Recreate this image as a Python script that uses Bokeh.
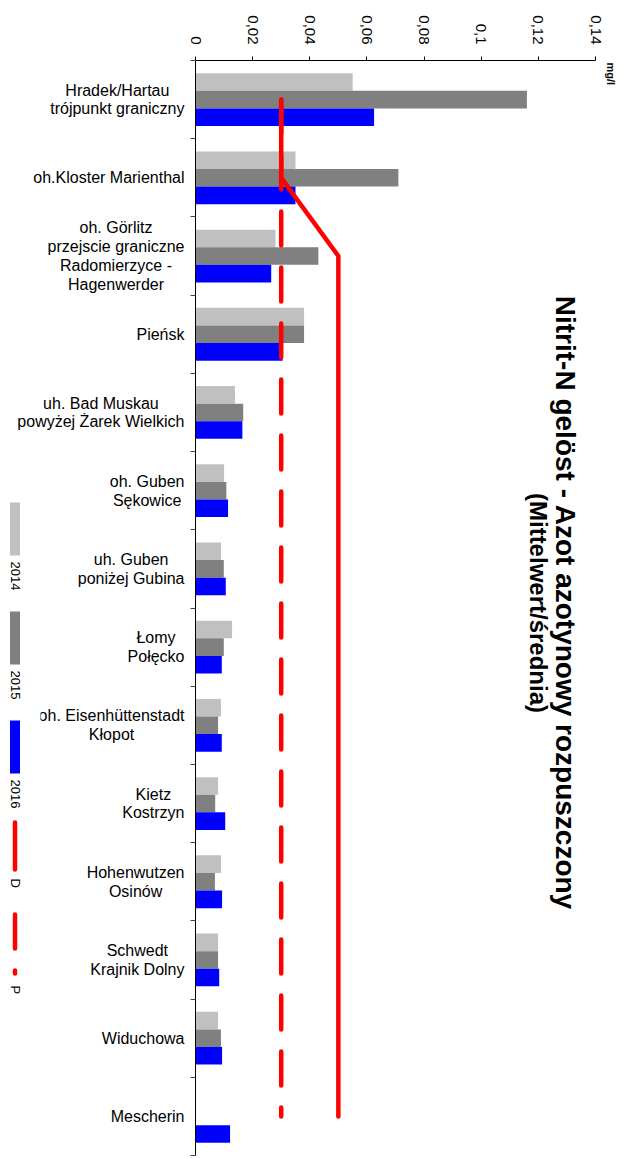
import math
from bokeh.plotting import figure
from bokeh.models import Range1d, FixedTicker, CustomJSTickFormatter, Label, ColumnDataSource
from bokeh.layouts import row
from bokeh.core.properties import value
from bokeh.embed import file_html
from bokeh.resources import INLINE

NaN = float("nan")

categories = [
    "Hradek/Hartau\ntrójpunkt graniczny",
    "oh.Kloster Marienthal",
    "oh. Görlitz\nprzejscie graniczne\nRadomierzyce -\nHagenwerder",
    "Pieńsk",
    "uh. Bad Muskau\npowyżej Żarek Wielkich",
    "oh. Guben\nSękowice",
    "uh. Guben\nponiżej Gubina",
    "Łomy\nPołęcko",
    "oh. Eisenhüttenstadt\nKłopot",
    "Kietz\nKostrzyn",
    "Hohenwutzen\nOsinów",
    "Schwedt\nKrajnik Dolny",
    "Widuchowa",
    "Mescherin",
]
series_names = ["2014", "2015", "2016"]
series_colors = ["#C0C0C0", "#808080", "#0000FF"]
v2014 = [0.055, 0.035, 0.028, 0.038, 0.0138, 0.010, 0.0089, 0.0128, 0.0089, 0.0079, 0.0089, 0.0079, 0.0079, NaN]
v2015 = [0.116, 0.071, 0.043, 0.038, 0.0167, 0.0108, 0.0099, 0.0099, 0.0079, 0.0069, 0.0068, 0.0079, 0.0089, NaN]
v2016 = [0.0625, 0.035, 0.0265, 0.0305, 0.0164, 0.0114, 0.0106, 0.0092, 0.0092, 0.0104, 0.0093, 0.0083, 0.0093, 0.0121]
limit_names = ["D", "P"]
limit_D = [0.03, 0.03, 0.05, 0.05, 0.05, 0.05, 0.05, 0.05, 0.05, 0.05, 0.05, 0.05, 0.05, 0.05]
limit_P = [0.03] * 14
x_ticks = [0, 0.02, 0.04, 0.06, 0.08, 0.1, 0.12, 0.14]
title1 = "Nitrit-N gelöst - Azot azotynowy rozpuszczony"
title2 = "(Mittelwert/średnia)"
unit = "mg/l"

FONT = "Liberation Sans"
RED = "#FF0000"

# Arial / Liberation Sans advance widths (per 1000 em), used to centre label lines
W = {" ": 278, ".": 278, "/": 278, "-": 333,
     "a": 556, "b": 556, "c": 500, "d": 556, "e": 556, "f": 278, "g": 556, "h": 556, "i": 222,
     "j": 222, "k": 500, "l": 222, "m": 833, "n": 556, "o": 556, "p": 556, "q": 556, "r": 333,
     "s": 500, "t": 278, "u": 556, "v": 500, "w": 722, "x": 500, "y": 500, "z": 500,
     "A": 667, "B": 667, "C": 722, "D": 722, "E": 667, "F": 611, "G": 778, "H": 722, "I": 278,
     "J": 500, "K": 667, "L": 556, "M": 833, "N": 722, "O": 778, "P": 667, "Q": 778, "R": 722,
     "S": 667, "T": 611, "U": 722, "V": 667, "W": 944, "X": 667, "Y": 667, "Z": 611,
     "ó": 556, "ö": 556, "ü": 556, "ń": 556, "ż": 500, "Ż": 611, "ę": 556, "ł": 222, "Ł": 556, "ś": 500}

def text_width(s, size):
    return max(sum(W.get(c, 556) for c in line) for line in s.split("\n")) * size / 1000.0

n = len(categories)
centers = [i + 0.5 for i in range(n)]
bar_h = 0.225
offsets = [-bar_h, 0.0, bar_h]

H = 1157
TOP = 60
BOTTOM = 2
LAB_W = 187
MAIN_W = 417
UNIT_W = 626 - LAB_W - MAIN_W


def blank_fig(width, x0, yr):
    f = figure(width=width, height=H, output_backend="svg", toolbar_location=None,
               x_range=Range1d(x0, x0 + width), y_range=yr,
               x_axis_location=None, y_axis_location=None,
               min_border_left=0, min_border_right=0, min_border_top=TOP, min_border_bottom=BOTTOM)
    f.outline_line_color = None
    f.grid.visible = False
    return f


# ---------------- main chart ----------------
p = figure(width=MAIN_W, height=H, output_backend="svg", toolbar_location=None,
           x_range=Range1d(0, 0.14), y_range=Range1d(n, 0),
           x_axis_location="above", y_axis_location="left",
           min_border_left=8, min_border_right=9, min_border_top=TOP, min_border_bottom=BOTTOM)
p.outline_line_color = None
p.grid.visible = False

xa = p.xaxis[0]
xa.ticker = FixedTicker(ticks=x_ticks)
xa.formatter = CustomJSTickFormatter(code="""
    if (tick == 0) return '0';
    return tick.toFixed(2).replace(/0$/, '').replace('.', ',');
""")
xa.major_label_orientation = -math.pi / 2
xa.major_label_text_font = FONT
xa.major_label_text_font_size = "15px"
xa.major_label_text_color = "black"
xa.major_label_standoff = 12
xa.major_tick_out = 4
xa.major_tick_in = 0
xa.minor_tick_out = 0
xa.minor_tick_in = 0
xa.axis_line_color = "black"
xa.major_tick_line_color = "black"

ya = p.yaxis[0]
ya.ticker = FixedTicker(ticks=list(range(n + 1)))
ya.formatter = CustomJSTickFormatter(code="return '';")
ya.major_label_standoff = 0
ya.major_tick_out = 5
ya.major_tick_in = 0
ya.minor_tick_out = 0
ya.minor_tick_in = 0
ya.axis_line_color = "black"
ya.major_tick_line_color = "#444444"

for vals, off, col in zip([v2014, v2015, v2016], offsets, series_colors):
    src = ColumnDataSource(dict(y=[c + off for c in centers], right=vals))
    p.hbar(y="y", left=0, right="right", height=bar_h, source=src,
           fill_color=col, line_color=None)

p.line(x=limit_D, y=centers, line_color=RED, line_width=4.5, line_cap="round", line_join="round")
p.line(x=limit_P, y=centers, line_color=RED, line_width=4.5, line_cap="round", line_dash="34 22")

p.add_layout(Label(x=0.14, y=n / 2, x_offset=-30, y_offset=5, text=title1, angle=-math.pi / 2,
                   text_align="center", text_baseline="middle", text_font=FONT,
                   text_font_size="28px", text_font_style="bold", text_color="black"))
p.add_layout(Label(x=0.14, y=n / 2, x_offset=-57, y_offset=5, text=title2, angle=-math.pi / 2,
                   text_align="center", text_baseline="middle", text_font=FONT,
                   text_font_size="24px", text_font_style="bold", text_color="black"))

# ---------------- category labels + legend ----------------
lab = blank_fig(LAB_W, 0, Range1d(n, 0))
lab.extra_y_ranges = {"px": Range1d(H - BOTTOM, TOP)}   # page-pixel coordinates for the legend
right_edge = 184
lab.text(x=[right_edge - text_width(c, 16) / 2 for c in categories], y=centers, text=categories,
         text_align="center", text_baseline="middle", text_font=value(FONT),
         text_font_size=value("16px"), text_line_height=1.1, text_color="black")

# legend box (white, covers label text behind it like the original)
lab.quad(left=[0], right=[40], top=[492], bottom=[1000], fill_color="white", line_color=None,
         y_range_name="px")
lx = 14.5
sw_tops = [502, 611, 720]
sw_len = 53
lab.quad(left=[lx - 5] * 3, right=[lx + 5] * 3, top=sw_tops, bottom=[t + sw_len for t in sw_tops],
         fill_color=series_colors, line_color=None, y_range_name="px")
lab.text(x=[lx] * 3, y=[t + sw_len + 6 for t in sw_tops], text=series_names, angle=-math.pi / 2,
         text_align="left", text_baseline="middle", text_font=value(FONT),
         text_font_size=value("13px"), text_color="black", y_range_name="px")
lab.line(x=[lx, lx], y=[822, 869], line_color=RED, line_width=4.5, line_cap="round",
         y_range_name="px")
lab.line(x=[lx, lx], y=[914, 973], line_color=RED, line_width=4.5, line_cap="round",
         line_dash="34 22", y_range_name="px")
lab.text(x=[lx, lx], y=[878, 985], text=limit_names, angle=-math.pi / 2,
         text_align="left", text_baseline="middle", text_font=value(FONT),
         text_font_size=value("13px"), text_color="black", y_range_name="px")

# ---------------- unit label ----------------
x0u = LAB_W + MAIN_W
uf = blank_fig(UNIT_W, x0u, Range1d(H - BOTTOM, TOP))
uf.text(x=[x0u + 6], y=[62], text=[unit], angle=-math.pi / 2, text_align="left", text_baseline="middle",
        text_font=value(FONT), text_font_size=value("11px"), text_font_style="bold", text_color="black")

layout = row(lab, p, uf)
open("out.html", "w").write(file_html(layout, INLINE))
